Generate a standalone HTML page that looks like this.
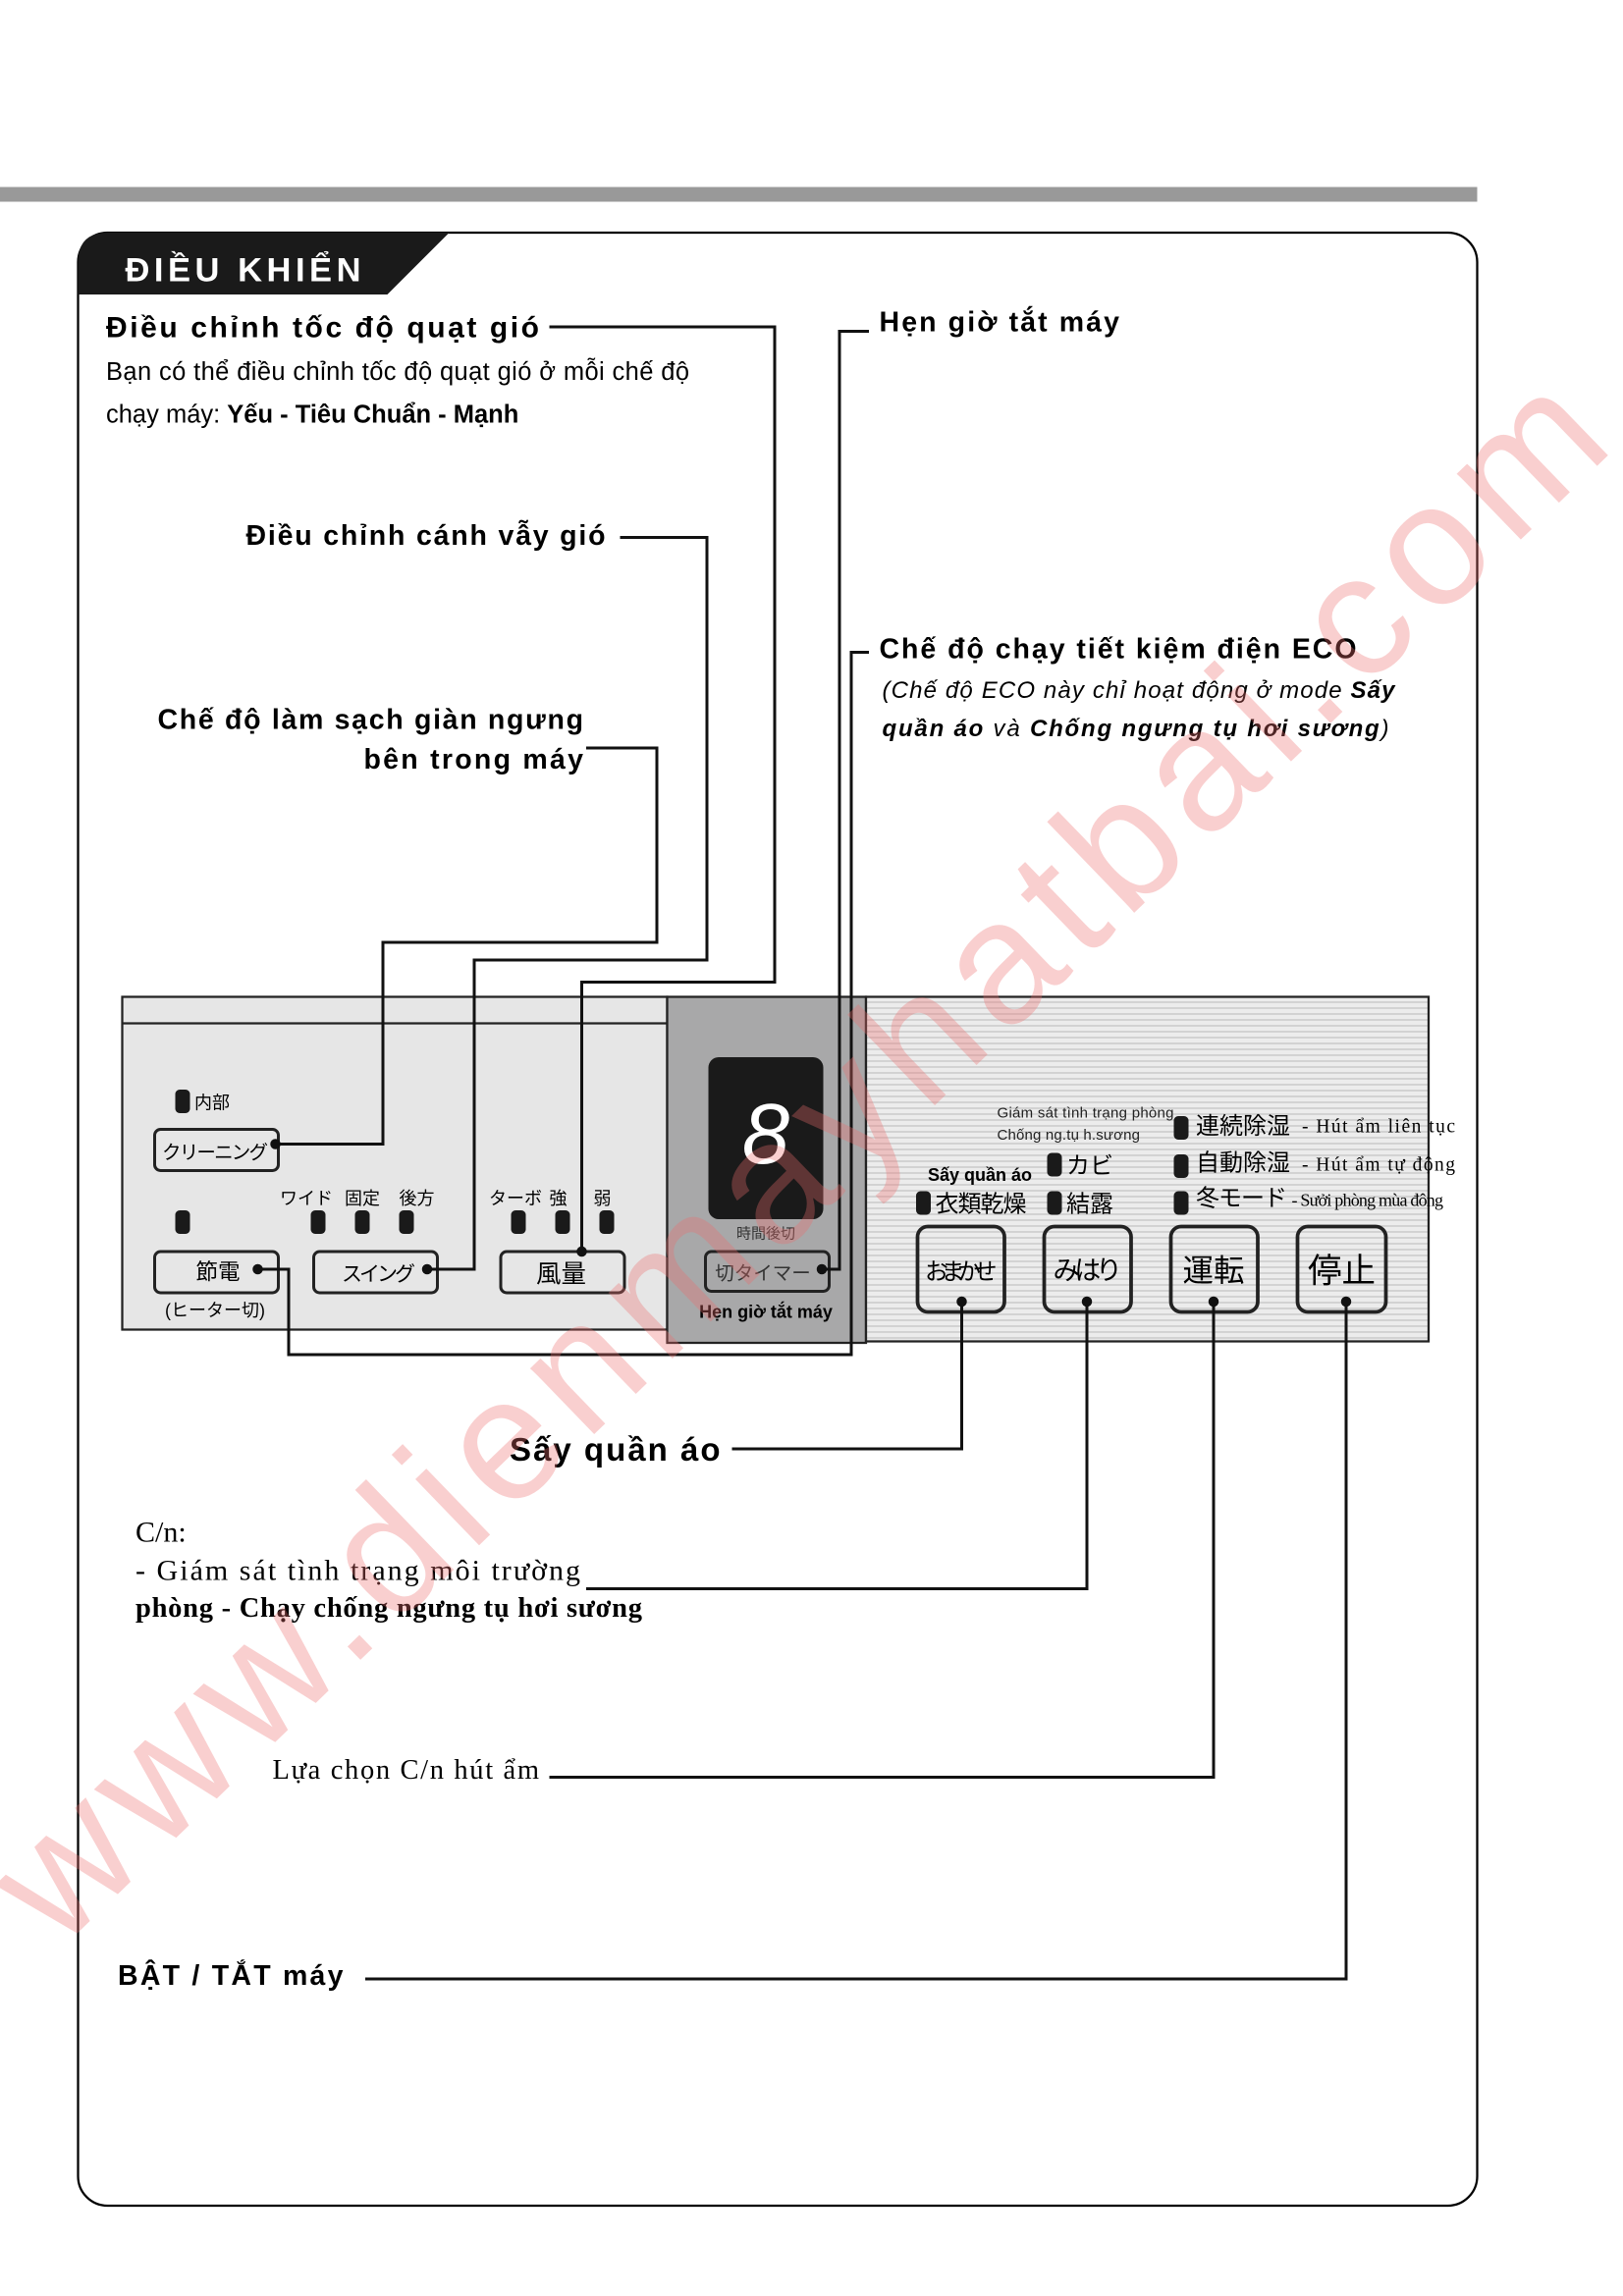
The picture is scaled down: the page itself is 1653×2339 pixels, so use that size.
<!DOCTYPE html>
<html><head><meta charset="utf-8"><style>
html,body{margin:0;padding:0;background:#fff}
svg{display:block}
text{font-family:"Liberation Sans","Noto Sans CJK JP",sans-serif}
.s{font-family:"Liberation Serif","Noto Serif CJK SC",serif}
.b{font-weight:bold}
</style></head><body>
<svg width="1653" height="2339" viewBox="0 0 1102 1559.33" xmlns="http://www.w3.org/2000/svg">
<defs>
<pattern id="st" width="4" height="4" patternUnits="userSpaceOnUse"><rect width="4" height="4" fill="#ececec"/><rect width="4" height="1.3" fill="#d2d2d2"/></pattern>
</defs>
<rect x="0" y="127" width="1003" height="10" fill="#999"/>
<rect x="53" y="158" width="950" height="1340" rx="20" fill="none" stroke="#000" stroke-width="1.5"/>
<path d="M53,200 L53,178 Q53,158 73,158 L305,158 L263,200 Z" fill="#1a1a1a"/>
<text x="85" y="191" fill="#fff" class="b" font-size="23" textLength="160">ĐIỀU KHIỂN</text>

<text x="72" y="229" class="b" font-size="20" textLength="294">Điều chỉnh tốc độ quạt gió</text>
<text x="72" y="258" font-size="17" textLength="396">Bạn có thể điều chỉnh tốc độ quạt gió ở mỗi chế độ</text>
<text x="72" y="287" font-size="17">chạy máy: <tspan class="b">Yếu - Tiêu Chuẩn - Mạnh</tspan></text>
<text x="167" y="370" class="b" font-size="19" textLength="244">Điều chỉnh cánh vẫy gió</text>
<text x="107" y="495" class="b" font-size="19" textLength="289">Chế độ làm sạch giàn ngưng</text>
<text x="247" y="522" class="b" font-size="19" textLength="149">bên trong máy</text>
<text x="597" y="225" class="b" font-size="19" textLength="163">Hẹn giờ tắt máy</text>
<text x="597" y="447" class="b" font-size="19" textLength="324">Chế độ chạy tiết kiệm điện ECO</text>
<text x="599" y="474" font-size="16" font-style="italic" textLength="348">(Chế độ ECO này chỉ hoạt động ở mode <tspan class="b">Sấy</tspan></text>
<text x="599" y="500" font-size="16" font-style="italic" textLength="344"><tspan class="b">quần áo</tspan> và <tspan class="b">Chống ngưng tụ hơi sương</tspan>)</text>

<!-- panel -->
<rect x="83" y="677" width="370" height="226" fill="#e6e6e6" stroke="#222" stroke-width="1.5"/>
<line x1="83" y1="695" x2="453" y2="695" stroke="#222" stroke-width="1.5"/>
<rect x="453" y="677" width="135" height="235" fill="#a8a8a9" stroke="#222" stroke-width="1.5"/>
<rect x="588" y="677" width="382" height="234" fill="url(#st)" stroke="#222" stroke-width="1.5"/>
<rect x="481" y="718" width="78" height="110" rx="7" fill="#1a1a1a"/>
<text x="520" y="790" fill="#fff" font-size="58" text-anchor="middle" font-style="italic">8</text>
<text x="520" y="841" font-size="10" text-anchor="middle" fill="#333">時間後切</text>
<rect x="479" y="850" width="84" height="27" rx="4" fill="none" stroke="#222" stroke-width="2"/>
<text x="518" y="869" font-size="13" text-anchor="middle" fill="#333">切タイマー</text>
<text x="520" y="895" font-size="12" class="b" text-anchor="middle">Hẹn giờ tắt máy</text>

<rect x="119" y="740" width="10" height="16" rx="3" fill="#1a1a1a"/>
<text x="132" y="753" font-size="12">内部</text>
<rect x="105" y="767" width="84" height="28" rx="4" fill="none" stroke="#222" stroke-width="2"/>
<text x="110" y="787" font-size="13" textLength="72">クリーニング</text>
<text x="190" y="818" font-size="12">ワイド</text><text x="234" y="818" font-size="12">固定</text><text x="271" y="818" font-size="12">後方</text>
<text x="332" y="818" font-size="12">ターボ</text><text x="373" y="818" font-size="12">強</text><text x="403" y="818" font-size="12">弱</text>
<g fill="#1a1a1a">
<rect x="119" y="822" width="10" height="16" rx="3"/>
<rect x="211" y="822" width="10" height="16" rx="3"/><rect x="241" y="822" width="10" height="16" rx="3"/><rect x="271" y="822" width="10" height="16" rx="3"/>
<rect x="347" y="822" width="10" height="16" rx="3"/><rect x="377" y="822" width="10" height="16" rx="3"/><rect x="407" y="822" width="10" height="16" rx="3"/>
</g>
<rect x="105" y="850" width="84" height="28" rx="4" fill="none" stroke="#222" stroke-width="2"/>
<text x="148" y="869" font-size="15" text-anchor="middle">節電</text>
<text x="146" y="894" font-size="12" text-anchor="middle">(ヒーター切)</text>
<rect x="213" y="850" width="84" height="28" rx="4" fill="none" stroke="#222" stroke-width="2"/>
<text x="232" y="870" font-size="14" textLength="50">スイング</text>
<rect x="340" y="850" width="84" height="28" rx="4" fill="none" stroke="#222" stroke-width="2"/>
<text x="381" y="871" font-size="17" text-anchor="middle">風量</text>

<!-- right panel -->
<text x="677" y="759" font-size="10" fill="#222" textLength="120">Giám sát tình trạng phòng</text>
<text x="677" y="774" font-size="10" fill="#222" textLength="97">Chống ng.tụ h.sương</text>
<text x="630" y="802" font-size="12" class="b">Sấy quần áo</text>
<g fill="#1a1a1a">
<rect x="622" y="809" width="10" height="16" rx="3"/>
<rect x="711" y="783" width="10" height="16" rx="3"/><rect x="711" y="809" width="10" height="16" rx="3"/>
<rect x="797" y="758" width="10" height="16" rx="3"/><rect x="797" y="784" width="10" height="16" rx="3"/><rect x="797" y="809" width="10" height="16" rx="3"/>
</g>
<text x="635" y="823" font-size="16" textLength="62">衣類乾燥</text>
<text x="724" y="797" font-size="16">カビ</text>
<text x="724" y="823" font-size="16">結露</text>
<text x="812" y="770" font-size="16" textLength="64">連続除湿</text>
<text x="812" y="795" font-size="16" textLength="64">自動除湿</text>
<text x="812" y="819" font-size="16" textLength="62">冬モード</text>
<text x="884" y="769" class="s" font-size="13" textLength="104">- Hút ẩm liên tục</text>
<text x="884" y="795" class="s" font-size="13" textLength="104">- Hút ẩm tự động</text>
<text x="877" y="819" class="s" font-size="12" textLength="103">- Sưởi phòng mùa đông</text>
<g fill="none" stroke="#222" stroke-width="2.5">
<rect x="623" y="833" width="59" height="58" rx="7"/>
<rect x="709" y="833" width="59" height="58" rx="7"/>
<rect x="795" y="833" width="59" height="58" rx="7"/>
<rect x="881" y="833" width="60" height="58" rx="7"/>
</g>
<text x="628" y="869" font-size="16" textLength="49">おまかせ</text>
<text x="715" y="869" font-size="18" textLength="47">みはり</text>
<text x="824" y="870" font-size="21" text-anchor="middle">運転</text>
<text x="911" y="871" font-size="23" text-anchor="middle">停止</text>

<!-- connectors -->
<g fill="none" stroke="#111" stroke-width="2">
<polyline points="373,222 526,222 526,667 395,667 395,850"/>
<polyline points="421,365 480,365 480,652 322,652 322,862 290,862"/>
<polyline points="398,508 446,508 446,640 260,640 260,777 187,777"/>
<polyline points="590,225 570,225 570,862 558,862"/>
<polyline points="590,443 578,443 578,920 196,920 196,862 175,862"/>
<polyline points="653,884 653,984 497,984"/>
<polyline points="738,884 738,1079 398,1079"/>
<polyline points="824,884 824,1207 373,1207"/>
<polyline points="914,884 914,1344 248,1344"/>
</g>
<g fill="#111">
<circle cx="395" cy="850" r="3.5"/><circle cx="290" cy="862" r="3.5"/><circle cx="187" cy="777" r="3.5"/>
<circle cx="558" cy="862" r="3.5"/><circle cx="175" cy="862" r="3.5"/>
<circle cx="653" cy="884" r="3.5"/><circle cx="738" cy="884" r="3.5"/><circle cx="824" cy="884" r="3.5"/><circle cx="914" cy="884" r="3.5"/>
</g>

<text x="346" y="992" class="b" font-size="22" textLength="143">Sấy quần áo</text>
<text x="92" y="1047" class="s" font-size="20">C/n:</text>
<text x="92" y="1073" class="s" font-size="20" textLength="302">- Giám sát tình trạng môi trường</text>
<text x="92" y="1098" class="s b" font-size="19" textLength="344">phòng - Chạy chống ngưng tụ hơi sương</text>
<text x="185" y="1208" class="s" font-size="19" textLength="181">Lựa chọn C/n hút ẩm</text>
<text x="80" y="1348" class="b" font-size="19" textLength="153">BẬT / TẮT máy</text>

<text x="0" y="0" font-size="118" fill="rgba(238,110,110,0.33)" textLength="1470" transform="translate(40,1325) rotate(-44)">www.dienmayhatbai.com</text>
</svg>
</body></html>
